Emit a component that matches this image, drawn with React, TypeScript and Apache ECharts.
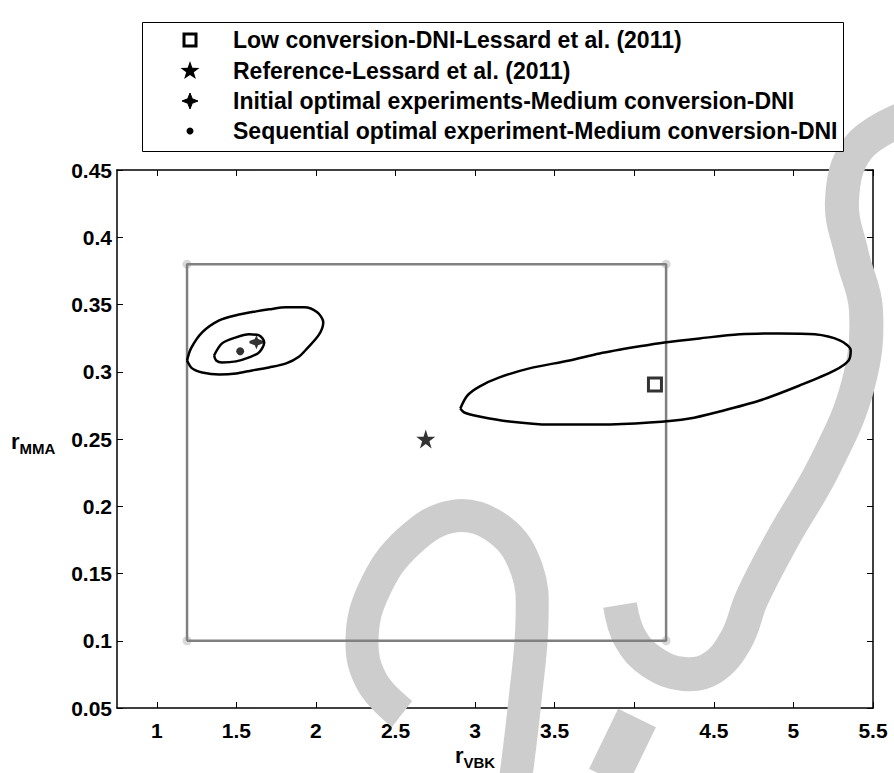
import React, { useEffect, useRef } from 'react';
import * as echarts from 'echarts';

const X_TICKS = [1, 1.5, 2, 2.5, 3, 3.5, 4, 4.5, 5, 5.5];
const Y_TICKS = [0.05, 0.1, 0.15, 0.2, 0.25, 0.3, 0.35, 0.4, 0.45];

const LEGEND_LABELS = [
  'Low conversion-DNI-Lessard et al. (2011)',
  'Reference-Lessard et al. (2011)',
  'Initial optimal experiments-Medium conversion-DNI',
  'Sequential optimal experiment-Medium conversion-DNI',
];

const LOW_CONVERSION = [[4.13, 0.2905]];
const REFERENCE = [[2.69, 0.25]];
const INITIAL_OPT = [[1.626, 0.322]];
const SEQUENTIAL_OPT = [[1.524, 0.3153]];

const DESIGN_REGION = [
  [1.19, 0.1], [1.19, 0.38], [4.2, 0.38], [4.2, 0.1], [1.19, 0.1],
];
const DESIGN_CORNERS = [[1.19, 0.1], [1.19, 0.38], [4.2, 0.38], [4.2, 0.1]];

const BIG_ELLIPSE = [
  [2.907, 0.2727], [2.951, 0.2823], [3.027, 0.289], [3.153, 0.2958], [3.341, 0.3025],
  [3.593, 0.3084], [3.782, 0.3136], [4.033, 0.3189], [4.19, 0.3218], [4.41, 0.3248],
  [4.662, 0.3278], [4.914, 0.3285], [5.134, 0.3278], [5.291, 0.3233], [5.36, 0.3159],
  [5.347, 0.3084], [5.259, 0.301], [5.039, 0.2898], [4.788, 0.2786], [4.536, 0.2704],
  [4.347, 0.2652], [4.096, 0.2622], [3.782, 0.2607], [3.467, 0.2607], [3.215, 0.263],
  [3.027, 0.2667], [2.932, 0.2697], [2.907, 0.2727],
];

const OUTER_ELLIPSE = [
  [1.19, 0.3084], [1.215, 0.3174], [1.285, 0.3293], [1.392, 0.3382], [1.498, 0.342],
  [1.624, 0.3449], [1.706, 0.3464], [1.813, 0.3479], [1.926, 0.3479], [2.008, 0.3442],
  [2.046, 0.3367], [2.02, 0.3278], [1.945, 0.3174], [1.895, 0.3114], [1.813, 0.3062],
  [1.706, 0.3032], [1.599, 0.301], [1.498, 0.2987], [1.392, 0.298], [1.285, 0.2995],
  [1.222, 0.3025], [1.19, 0.3084],
];

const INNER_ELLIPSE = [
  [1.36, 0.3121], [1.41, 0.3211], [1.498, 0.3256], [1.58, 0.3278], [1.643, 0.3271],
  [1.675, 0.3218], [1.643, 0.3144], [1.58, 0.3107], [1.498, 0.3077], [1.41, 0.3069],
  [1.373, 0.3084], [1.36, 0.3121],
];

const FONT = "'Liberation Sans', Arial, sans-serif";
const STAR_PATH =
  'path://M50,0L61.2,34.5L97.6,34.5L68.2,55.9L79.4,90.5L50,69.1L20.6,90.5L31.8,55.9L2.4,34.5L38.8,34.5Z';
const SPARK_PATH =
  'path://M50,0L62,28L100,42L100,58L62,72L50,100L38,72L0,58L0,42L38,28Z';
const WATERMARK = '#cdcdcd';

function starPoints(cx: number, cy: number, ro: number, ri: number, n: number) {
  const pts: number[][] = [];
  for (let i = 0; i < n * 2; i++) {
    const r = i % 2 === 0 ? ro : ri;
    const a = -Math.PI / 2 + (i * Math.PI) / n;
    pts.push([cx + r * Math.cos(a), cy + r * Math.sin(a)]);
  }
  return pts;
}

export default function App() {
  const ref = useRef<HTMLDivElement>(null);
  useEffect(() => {
    if (!ref.current) return;
    const chart = echarts.init(ref.current, undefined, { renderer: 'svg' });
    const rowY = [40, 71, 101, 131];
    const mx = 190;
    const lineStyle = { color: '#000', width: 2.5 };
    const baseAxisX = {
      type: 'value' as const,
      min: 0.75,
      max: 5.5,
      splitLine: { show: false },
      axisLine: { show: true, onZero: false, lineStyle: { color: '#000', width: 1.5 } },
      axisTick: { show: true, inside: true, length: 6, customValues: X_TICKS, lineStyle: { color: '#000', width: 1 } },
    };
    const baseAxisY = {
      type: 'value' as const,
      min: 0.05,
      max: 0.45,
      splitLine: { show: false },
      axisLine: { show: true, onZero: false, lineStyle: { color: '#000', width: 1.5 } },
      axisTick: { show: true, inside: true, length: 6, customValues: Y_TICKS, lineStyle: { color: '#000', width: 1 } },
    };
    const labelStyle = {
      show: true,
      color: '#000',
      fontSize: 21,
      fontWeight: 'bold',
      fontFamily: FONT,
      formatter: (v: number) => String(v),
    };
    const titleRich = {
      r: { font: `bold 22px ${FONT}`, fill: '#000', verticalAlign: 'bottom' },
      s: { font: `bold 15px ${FONT}`, fill: '#000', verticalAlign: 'bottom', padding: [0, 0, -4, 0] },
    };
    const wm = (shape: any, type: string, width: number) => ({
      type,
      shape,
      style: { stroke: WATERMARK, lineWidth: width, fill: 'none', lineCap: 'butt', lineJoin: 'round' },
      z: 1,
      silent: true,
    });
    chart.setOption({
      animation: false,
      backgroundColor: '#fff',
      grid: { left: 117, right: 21, top: 170, bottom: 65, containLabel: false },
      xAxis: [
        {
          ...baseAxisX,
          position: 'bottom',
          axisLabel: { ...labelStyle, customValues: X_TICKS, margin: 12 },
        },
        { ...baseAxisX, position: 'top', axisLabel: { show: false } },
      ],
      yAxis: [
        {
          ...baseAxisY,
          position: 'left',
          axisLabel: { ...labelStyle, customValues: Y_TICKS, margin: 5 },
        },
        { ...baseAxisY, position: 'right', axisLabel: { show: false } },
      ],
      series: [
        {
          type: 'scatter',
          name: 'corners',
          data: DESIGN_CORNERS,
          symbol: 'circle',
          symbolSize: 9,
          itemStyle: { color: '#cfcfcf' },
          z: 2,
          silent: true,
        },
        {
          type: 'line',
          name: 'design region',
          data: DESIGN_REGION,
          showSymbol: false,
          symbol: 'none',
          lineStyle: { color: '#808080', width: 2.5 },
          z: 3,
        },
        { type: 'line', name: 'big', data: BIG_ELLIPSE, symbol: 'none', smooth: 0.3, lineStyle, z: 4 },
        { type: 'line', name: 'outer', data: OUTER_ELLIPSE, symbol: 'none', smooth: 0.3, lineStyle, z: 4 },
        { type: 'line', name: 'inner', data: INNER_ELLIPSE, symbol: 'none', smooth: 0.3, lineStyle, z: 4 },
        {
          type: 'scatter',
          name: LEGEND_LABELS[0],
          data: LOW_CONVERSION,
          symbol: 'rect',
          symbolSize: 13,
          itemStyle: { color: '#fff', borderColor: '#000', borderWidth: 3 },
          z: 5,
        },
        {
          type: 'scatter',
          name: LEGEND_LABELS[1],
          data: REFERENCE,
          symbol: STAR_PATH,
          symbolSize: 19,
          itemStyle: { color: '#000' },
          z: 5,
        },
        {
          type: 'scatter',
          name: LEGEND_LABELS[2],
          data: INITIAL_OPT,
          symbol: SPARK_PATH,
          symbolSize: 14,
          itemStyle: { color: '#000' },
          z: 5,
        },
        {
          type: 'scatter',
          name: LEGEND_LABELS[3],
          data: SEQUENTIAL_OPT,
          symbol: 'circle',
          symbolSize: 8,
          itemStyle: { color: '#000' },
          z: 5,
        },
      ],
      graphic: [
        wm(
          {
            points: [
              [905, 118], [858, 148], [842, 200], [852, 255], [866, 310],
              [858, 385], [825, 465], [782, 540], [752, 598], [736, 640],
              [712, 668], [684, 674], [652, 662], [630, 638], [620, 605],
            ],
            smooth: 0.4,
          },
          'polyline',
          34,
        ),
        wm(
          {
            points: [
              [402, 714], [372, 682], [362, 640], [374, 590], [408, 542],
              [455, 516], [500, 530], [527, 570], [532, 620], [525, 700], [516, 776],
            ],
            smooth: 0.4,
          },
          'polyline',
          33,
        ),
        wm({ x1: 637, y1: 718, x2: 608, y2: 778 }, 'line', 42),
        {
          type: 'rect',
          shape: { x: 142.5, y: 22.5, width: 701, height: 129 },
          style: { fill: '#fff', stroke: '#000', lineWidth: 1 },
          z: 10,
        },
        {
          type: 'rect',
          shape: { x: mx - 6, y: rowY[0] - 6, width: 12, height: 12 },
          style: { fill: '#fff', stroke: '#000', lineWidth: 3 },
          z: 11,
        },
        {
          type: 'polygon',
          shape: { points: starPoints(mx, rowY[1], 10, 4, 5) },
          style: { fill: '#000' },
          z: 11,
        },
        {
          type: 'polygon',
          shape: { points: starPoints(mx, rowY[2], 8, 3.2, 4) },
          style: { fill: '#000', stroke: '#000', lineWidth: 1 },
          z: 11,
        },
        {
          type: 'circle',
          shape: { cx: mx, cy: rowY[3], r: 3.5 },
          style: { fill: '#000' },
          z: 11,
        },
        ...LEGEND_LABELS.map((t, i) => ({
          type: 'text',
          x: 233,
          y: rowY[i],
          style: {
            text: t,
            fill: '#000',
            font: `bold 23px ${FONT}`,
            textVerticalAlign: 'middle',
            textAlign: 'left',
          },
          z: 11,
        })),
        {
          type: 'text',
          x: 475,
          y: 755,
          style: {
            text: '{r|r}{s|VBK}',
            textAlign: 'center',
            textVerticalAlign: 'middle',
            rich: titleRich,
          },
          z: 11,
        },
        {
          type: 'text',
          x: 11,
          y: 441,
          style: {
            text: '{r|r}{s|MMA}',
            textAlign: 'left',
            textVerticalAlign: 'middle',
            rich: titleRich,
          },
          z: 11,
        },
      ],
    });
    return () => chart.dispose();
  }, []);
  return <div ref={ref} style={{ width: 894, height: 773, position: 'absolute', left: 0, top: 0 }} />;
}
